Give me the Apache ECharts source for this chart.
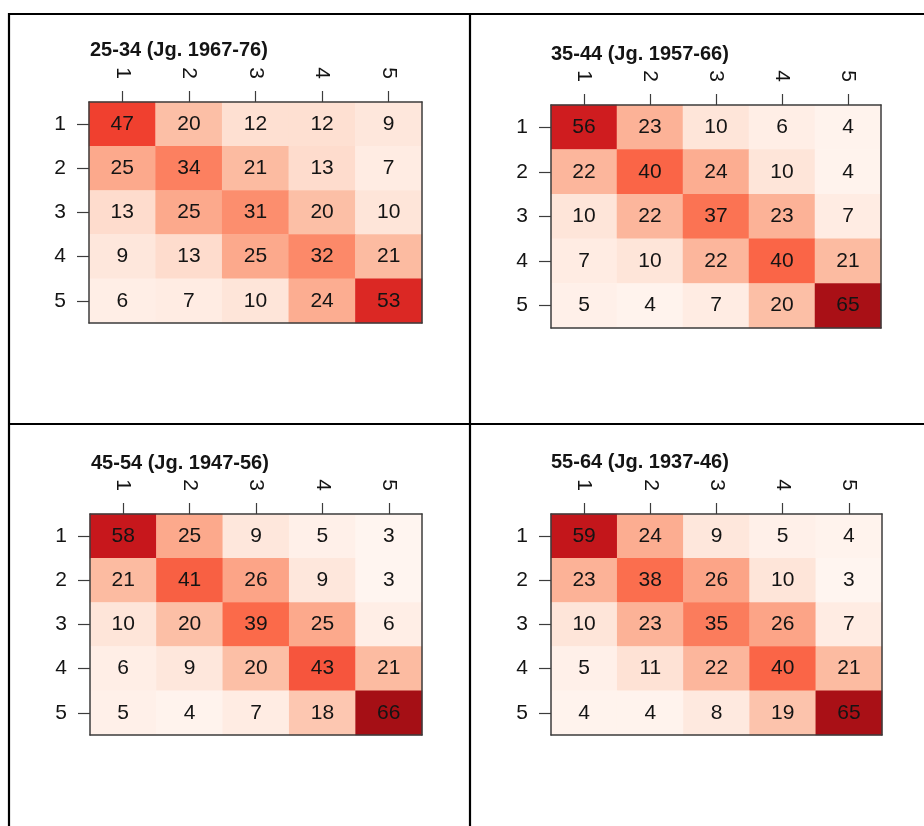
<!DOCTYPE html>
<html>
<head>
<meta charset="utf-8">
<script src="https://cdn.jsdelivr.net/npm/echarts@6/dist/echarts.min.js"></script>
<style>
  html, body { margin: 0; padding: 0; background: #ffffff; }
  #chart { width: 924px; height: 826px; }
</style>
</head>
<body>
<div id="chart"></div>
<script>
// Category labels shared by all four transition tables
const rowLabels = ['1', '2', '3', '4', '5'];
const colLabels = ['1', '2', '3', '4', '5'];

// Panel titles (age group and birth cohorts)
const panelTitles = [
  '25-34 (Jg. 1967-76)',
  '35-44 (Jg. 1957-66)',
  '45-54 (Jg. 1947-56)',
  '55-64 (Jg. 1937-46)'
];

// Transition percentages, one row per origin quintile
const values2534 = [
  [47, 20, 12, 12, 9],
  [25, 34, 21, 13, 7],
  [13, 25, 31, 20, 10],
  [9, 13, 25, 32, 21],
  [6, 7, 10, 24, 53]
];
const values3544 = [
  [56, 23, 10, 6, 4],
  [22, 40, 24, 10, 4],
  [10, 22, 37, 23, 7],
  [7, 10, 22, 40, 21],
  [5, 4, 7, 20, 65]
];
const values4554 = [
  [58, 25, 9, 5, 3],
  [21, 41, 26, 9, 3],
  [10, 20, 39, 25, 6],
  [6, 9, 20, 43, 21],
  [5, 4, 7, 18, 66]
];
const values5564 = [
  [59, 24, 9, 5, 4],
  [23, 38, 26, 10, 3],
  [10, 23, 35, 26, 7],
  [5, 11, 22, 40, 21],
  [4, 4, 8, 19, 65]
];

const panelValues = [values2534, values3544, values4554, values5564];

// Colour scale range
const scaleMin = 3;
const scaleMax = 66;
const reds = ['#FFF5F0', '#FEE0D2', '#FCBBA1', '#FC9272', '#FB6A4A', '#EF3B2C', '#CB181D', '#A50F15'];

// Layout of the four panels
const layouts = [
  { grid: { left: 89, top: 102, width: 333, height: 221 }, title: { left: 90, top: 40 } },
  { grid: { left: 551, top: 105, width: 330, height: 223 }, title: { left: 551, top: 44 } },
  { grid: { left: 90, top: 514, width: 332, height: 221 }, title: { left: 91, top: 453 } },
  { grid: { left: 551, top: 514, width: 331, height: 221 }, title: { left: 551, top: 452 } }
];

const FONT = '"Liberation Sans", Arial, sans-serif';
const TEXT = '#141414';
const LINE = '#3c3c3c';

const grids = [], xAxes = [], yAxes = [], series = [], titles = [];

layouts.forEach((lay, i) => {
  grids.push(Object.assign({ containLabel: false }, lay.grid));

  titles.push({
    text: panelTitles[i],
    left: lay.title.left,
    top: lay.title.top,
    padding: 0,
    textStyle: { fontFamily: FONT, fontSize: 20, fontWeight: 'bold', color: TEXT, lineHeight: 20 }
  });

  // Top axis with column labels and ticks
  xAxes.push({
    type: 'category', gridIndex: i, position: 'top', data: colLabels, z: 5,
    axisLine: { show: true, lineStyle: { color: LINE, width: 1.5 } },
    axisTick: { show: true, alignWithLabel: true, length: 11, lineStyle: { color: LINE, width: 1.2 } },
    axisLabel: { rotate: 90, margin: 23, fontFamily: FONT, fontSize: 21, color: TEXT },
    splitLine: { show: false }
  });
  // Bottom edge of the box
  xAxes.push({
    type: 'category', gridIndex: i, position: 'bottom', data: colLabels, z: 5,
    axisLine: { show: true, lineStyle: { color: LINE, width: 1.5 } },
    axisTick: { show: false }, axisLabel: { show: false }, splitLine: { show: false }
  });

  // Left axis with row labels and ticks
  yAxes.push({
    type: 'category', gridIndex: i, position: 'left', data: rowLabels, inverse: true, z: 5,
    axisLine: { show: true, lineStyle: { color: LINE, width: 1.5 } },
    axisTick: { show: true, alignWithLabel: true, length: 12, lineStyle: { color: LINE, width: 1.2 } },
    axisLabel: { margin: 23, fontFamily: FONT, fontSize: 21, color: TEXT },
    splitLine: { show: false }
  });
  // Right edge of the box
  yAxes.push({
    type: 'category', gridIndex: i, position: 'right', data: rowLabels, inverse: true, z: 5,
    axisLine: { show: true, lineStyle: { color: LINE, width: 1.5 } },
    axisTick: { show: false }, axisLabel: { show: false }, splitLine: { show: false }
  });

  const data = [];
  panelValues[i].forEach((row, r) => {
    row.forEach((v, c) => data.push([c, r, v]));
  });

  series.push({
    type: 'heatmap',
    xAxisIndex: i * 2,
    yAxisIndex: i * 2,
    data: data,
    itemStyle: { borderWidth: 0 },
    label: {
      show: true,
      formatter: p => String(p.value[2]),
      fontFamily: FONT, fontSize: 21, color: TEXT
    },
    emphasis: { disabled: true }
  });
});

// Frame lines separating the four panels
const frameStyle = { stroke: '#000000', lineWidth: 2.2 };
const graphics = [
  { type: 'line', shape: { x1: 9, y1: 14, x2: 924, y2: 14 }, style: frameStyle, silent: true },
  { type: 'line', shape: { x1: 9, y1: 424, x2: 924, y2: 424 }, style: frameStyle, silent: true },
  { type: 'line', shape: { x1: 9, y1: 13, x2: 9, y2: 826 }, style: frameStyle, silent: true },
  { type: 'line', shape: { x1: 470, y1: 13, x2: 470, y2: 826 }, style: frameStyle, silent: true }
];

const chart = echarts.init(document.getElementById('chart'), null, { renderer: 'canvas' });
chart.setOption({
  backgroundColor: '#ffffff',
  animation: false,
  title: titles,
  grid: grids,
  xAxis: xAxes,
  yAxis: yAxes,
  visualMap: {
    type: 'continuous',
    show: false,
    min: scaleMin,
    max: scaleMax,
    seriesIndex: [0, 1, 2, 3],
    inRange: { color: reds }
  },
  graphic: graphics,
  series: series
});
</script>
</body>
</html>
